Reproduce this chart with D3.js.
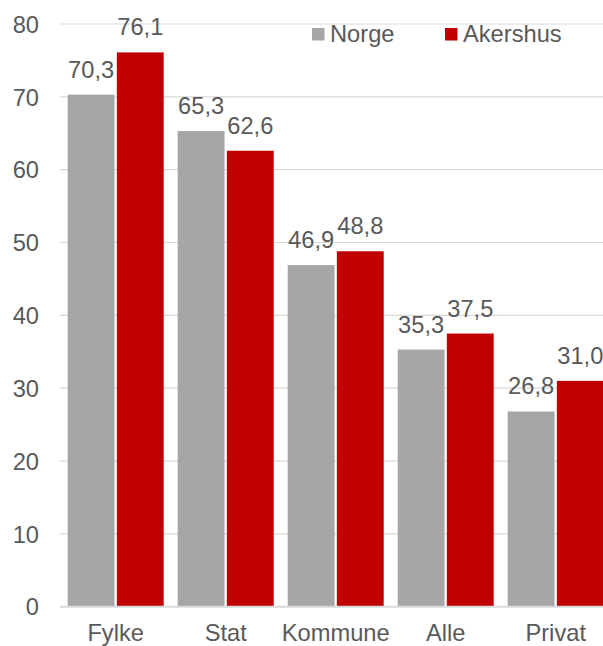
<!DOCTYPE html>
<html><head><meta charset="utf-8">
<script src="https://cdn.jsdelivr.net/npm/d3@7"></script>
<style>body{margin:0;background:#fff}svg{display:block}text{font-family:"Liberation Sans",Arial,sans-serif;fill:#595959}</style>
</head><body><svg id="c" width="603" height="646"></svg>
<script>
const categories = ["Fylke","Stat","Kommune","Alle","Privat"];
const seriesNames = ["Norge","Akershus"];
const norge = [70.3,65.3,46.9,35.3,26.8];
const akershus = [76.1,62.6,48.8,37.5,31.0];
const yTicks = [0,10,20,30,40,50,60,70,80];
const colors = ["#A6A6A6","#C00000"];

const SX = "scale(1.03,1)";
const FS = 23;
const svg = d3.select("#c");
const x = d3.scaleBand().domain(categories).range([60.7,610.7]).paddingInner(0.1273).paddingOuter(0.0636);
const y = d3.scaleLinear().domain([0,80]).range([606.7,24]);
const xs = d3.scaleBand().domain(seriesNames).range([0,x.bandwidth()]).paddingInner(0.047);

// gridlines
svg.append("g").selectAll("line").data(yTicks.filter(d=>d>0)).join("line")
  .attr("x1",60).attr("x2",603).attr("y1",d=>y(d)).attr("y2",d=>y(d))
  .attr("stroke","#D9D9D9").attr("stroke-width",1.2);

// y axis labels
const yAxis = d3.axisLeft(y).tickValues(yTicks).tickSize(0).tickPadding(0).tickFormat(d3.format("d"));
const ga = svg.append("g").attr("transform","translate(39,0)").call(yAxis);
ga.select(".domain").remove();
ga.selectAll("text").attr("font-size",FS).attr("fill","#595959").attr("x",0).attr("dy","0.36em")
  .attr("transform",SX).style("font-family","Liberation Sans, Arial, sans-serif");

const data = categories.map((c,i)=>({c, vals:[norge[i],akershus[i]]}));
const groups = svg.append("g").selectAll("g").data(data).join("g")
  .attr("transform",d=>`translate(${x(d.c)},0)`);
groups.selectAll("rect").data(d=>d.vals.map((v,j)=>({v,s:seriesNames[j],j}))).join("rect")
  .attr("x",d=>xs(d.s)).attr("width",xs.bandwidth())
  .attr("y",d=>y(d.v)).attr("height",d=>y(0)-y(d.v))
  .attr("fill",d=>colors[d.j]);
groups.selectAll("text").data(d=>d.vals.map((v,j)=>({v,s:seriesNames[j],j}))).join("text")
  .attr("transform",d=>`translate(${xs(d.s)+xs.bandwidth()/2},${y(d.v)-17}) ${SX}`)
  .attr("text-anchor","middle").attr("font-size",FS)
  .text(d=>d3.format(".1f")(d.v).replace(".",","));

// baseline
svg.append("line").attr("x1",60).attr("x2",603).attr("y1",y(0)).attr("y2",y(0))
  .attr("stroke","#D9D9D9").attr("stroke-width",2);

// x axis labels
const xAxis = d3.axisBottom(x).tickSize(0).tickPadding(0);
const gx = svg.append("g").attr("transform","translate(0,640.5)").call(xAxis);
gx.select(".domain").remove();
gx.selectAll("text").attr("font-size",FS).attr("fill","#595959").attr("y",0).attr("dy",0)
  .attr("transform",SX).style("font-family","Liberation Sans, Arial, sans-serif");

// legend
const legX = [312,445];
const lg = svg.append("g").selectAll("g").data(seriesNames).join("g")
  .attr("transform",(d,i)=>`translate(${legX[i]},28)`);
lg.append("rect").attr("width",12.5).attr("height",12.5).attr("fill",(d,i)=>colors[i]);
lg.append("text").attr("transform",`translate(18,14) ${SX}`).attr("font-size",FS).text(d=>d);
</script></body></html>
